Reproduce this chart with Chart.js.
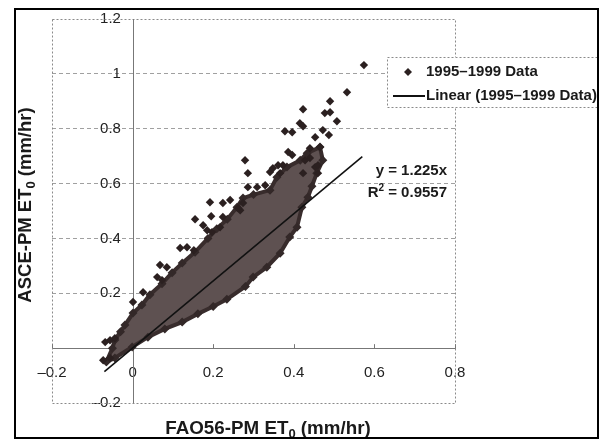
<!DOCTYPE html>
<html><head><meta charset="utf-8">
<script src="https://cdn.jsdelivr.net/npm/chart.js@4.4.1/dist/chart.umd.min.js"></script>
<style>html,body{margin:0;padding:0;background:#fff;}#wrap{width:604px;height:440px;}</style>
</head><body><div id="wrap"><canvas id="c" width="604" height="440"></canvas></div>
<script>
// ---- data ----
const xTickLabels = ['–0.2','0','0.2','0.4','0.6','0.8'];
const yTickLabels = ['–0.2','0','0.2','0.4','0.6','0.8','1','1.2'];
const seriesName = '1995–1999 Data';
const trendName = 'Linear (1995–1999 Data)';
const eqText = 'y = 1.225x';
const r2Text = '0.9557';
const xTitle = ['FAO56-PM ET', '0', ' (mm/hr)'];
const yTitle = ['ASCE-PM ET', '0', ' (mm/hr)'];

// trend line end points
const trendX = [-0.07, 0.57];
const trendY = [-0.086, 0.698];

// outline of the dense cloud of observations (closed)
const cloudX = [-0.065,-0.05,-0.044,-0.03,-0.019,0.001,0.023,0.043,0.073,0.098,0.123,0.155,0.187,0.209,0.235,0.259,0.274,0.30,0.341,0.358,0.383,0.416,0.433,0.465,0.472,0.457,0.445,0.435,0.42,0.408,0.39,0.366,0.333,0.299,0.28,0.234,0.2,0.162,0.123,0.08,0.038,-0.001,-0.044,-0.065];
const cloudY = [-0.05,0.0,0.03,0.06,0.084,0.128,0.157,0.195,0.235,0.275,0.31,0.35,0.40,0.435,0.47,0.514,0.547,0.56,0.576,0.623,0.66,0.685,0.711,0.733,0.685,0.638,0.59,0.55,0.514,0.441,0.405,0.346,0.295,0.259,0.225,0.178,0.152,0.125,0.095,0.07,0.04,0.004,-0.036,-0.05];

// scattered individual observations
const outlierX = [0.574,0.532,0.490,0.423,0.477,0.490,0.507,0.415,0.423,0.378,0.396,0.472,0.487,0.453,0.386,0.396,0.440,0.465,0.348,0.361,0.341,0.279,0.286,0.286,0.309,0.329,0.192,0.224,0.242,0.274,0.267,0.195,0.155,0.175,0.185,0.197,0.118,0.135,0.152,0.068,0.085,0.061,0.073,0.026,0.001,-0.068,-0.056,-0.044,-0.073,-0.056,
  0.366,0.373,0.440,0.453,0.460,0.423,0.428,0.460,0.262,0.224,0.217];
const outlierY = [1.032,0.933,0.900,0.871,0.857,0.860,0.827,0.820,0.809,0.791,0.787,0.795,0.777,0.769,0.715,0.704,0.729,0.733,0.656,0.667,0.642,0.685,0.638,0.587,0.587,0.594,0.532,0.529,0.540,0.529,0.503,0.481,0.470,0.448,0.430,0.423,0.365,0.368,0.357,0.303,0.295,0.259,0.248,0.204,0.168,0.022,0.029,0.036,-0.044,-0.036,
  0.638,0.667,0.693,0.660,0.638,0.638,0.685,0.667,0.510,0.478,0.441];

const zip = (xs, ys) => xs.map((x, i) => ({x: x, y: ys[i]}));
const FONT = '"Liberation Sans", Arial, Helvetica, sans-serif';
const DOT = '#2b2020';

function partsFont(i, size) { return 'bold ' + (i === 1 ? Math.round(size * 0.68) : size) + 'px ' + FONT; }
function partsWidth(ctx, parts, size) {
  let w = 0;
  parts.forEach((t, i) => { ctx.font = partsFont(i, size); w += ctx.measureText(t).width; });
  return w;
}
function drawParts(ctx, parts, x, y, size, shift) {
  parts.forEach((t, i) => {
    ctx.font = partsFont(i, size);
    ctx.fillText(t, x, y + (i === 1 ? shift : 0));
    x += ctx.measureText(t).width;
  });
}

const decor = {
  id: 'decor',
  beforeDraw(chart) {
    const ctx = chart.ctx;
    ctx.save(); ctx.fillStyle = '#fff'; ctx.fillRect(0, 0, chart.width, chart.height); ctx.restore();
  },
  beforeDatasetsDraw(chart) {
    const ctx = chart.ctx, a = chart.chartArea;
    const xs = chart.scales.x, ys = chart.scales.y;
    ctx.save();
    ctx.strokeStyle = '#8a8a8a'; ctx.lineWidth = 1; ctx.setLineDash([2, 2]);
    ctx.strokeRect(Math.round(a.left) + 0.5, Math.round(a.top) + 0.5, Math.round(a.right - a.left), Math.round(a.bottom - a.top));
    ctx.setLineDash([]);
    // vertical axis line at x = 0
    const x0 = Math.round(xs.getPixelForValue(0)) + 0.5;
    ctx.strokeStyle = '#777';
    ctx.beginPath(); ctx.moveTo(x0, a.top); ctx.lineTo(x0, a.bottom); ctx.stroke();
    // small upward tick marks on x axis
    const y0 = ys.getPixelForValue(0);
    xs.ticks.forEach(t => {
      const px = Math.round(xs.getPixelForValue(t.value)) + 0.5;
      ctx.beginPath(); ctx.moveTo(px, y0); ctx.lineTo(px, y0 - 4); ctx.stroke();
    });
    ctx.restore();
  },
  afterDraw(chart) {
    const ctx = chart.ctx;
    ctx.save();
    // legend box
    ctx.fillStyle = '#fff';
    ctx.fillRect(387, 57, 210, 50);
    ctx.strokeStyle = '#8a8a8a'; ctx.lineWidth = 1; ctx.setLineDash([2, 2]);
    ctx.strokeRect(387.5, 57.5, 210, 50);
    ctx.setLineDash([]);
    ctx.fillStyle = DOT;
    ctx.beginPath(); ctx.moveTo(408, 68); ctx.lineTo(412, 72); ctx.lineTo(408, 76); ctx.lineTo(404, 72); ctx.closePath(); ctx.fill();
    ctx.strokeStyle = '#111'; ctx.lineWidth = 2;
    ctx.beginPath(); ctx.moveTo(393, 96); ctx.lineTo(425, 96); ctx.stroke();
    ctx.fillStyle = '#1a1a1a';
    ctx.font = 'bold 15px ' + FONT; ctx.textBaseline = 'middle'; ctx.textAlign = 'left';
    ctx.fillText(seriesName, 426, 72);
    ctx.fillText(trendName, 426, 96);
    // equation
    ctx.textAlign = 'right';
    ctx.fillText(eqText, 447, 171);
    ctx.textAlign = 'left';
    const r2 = ['R', '2', ' = ' + r2Text];
    const w = partsWidth(ctx, r2, 15);
    ctx.textBaseline = 'alphabetic';
    drawParts(ctx, r2, 447 - w, 197, 15, -6);
    // axis titles
    const wx = partsWidth(ctx, xTitle, 18.8);
    drawParts(ctx, xTitle, 268 - wx / 2, 434, 18.8, 4);
    const wy = partsWidth(ctx, yTitle, 18.5);
    ctx.save();
    ctx.translate(31, 205); ctx.rotate(-Math.PI / 2);
    drawParts(ctx, yTitle, -wy / 2, 0, 18.5, 4);
    ctx.restore();
    // outer frame
    ctx.strokeStyle = '#000'; ctx.lineWidth = 2;
    ctx.strokeRect(15, 9, 583, 429);
    ctx.restore();
  }
};

const hidden = v => [-0.2, 0, 1.2].some(k => Math.abs(v - k) < 1e-6);

new Chart(document.getElementById('c'), {
  type: 'scatter',
  data: {
    datasets: [
      { label: trendName, data: zip(trendX, trendY), showLine: true, borderColor: '#111', borderWidth: 1.6, pointRadius: 0, fill: false },
      { label: seriesName, data: zip(outlierX, outlierY), pointStyle: 'rectRot', pointRadius: 4.2, backgroundColor: DOT, borderWidth: 0 },
      { label: seriesName + ' (dense)', data: zip(cloudX, cloudY), showLine: true, fill: 'shape', backgroundColor: '#5e5151', borderColor: '#382c2c', borderWidth: 4,
        pointStyle: 'rectRot', pointRadius: 4.5, pointBackgroundColor: '#332828', pointBorderWidth: 0 }
    ]
  },
  options: {
    responsive: false, animation: false, devicePixelRatio: 1,
    layout: { padding: { left: 52, top: 19, right: 149, bottom: 37 } },
    plugins: { legend: { display: false }, tooltip: { enabled: false }, title: { display: false } },
    scales: {
      x: {
        type: 'linear', min: -0.2, max: 0.8, position: { y: 0 },
        ticks: { stepSize: 0.2, padding: 16, color: '#222', font: { size: 15, family: FONT }, maxRotation: 0,
          callback: (v, i) => xTickLabels[i] },
        grid: { display: false, drawTicks: false },
        border: { display: true, color: '#777', width: 1 }
      },
      y: {
        // labels sit just left of the x = 0 axis line
        type: 'linear', min: -0.2, max: 1.2, position: { x: -0.029 },
        ticks: { stepSize: 0.2, padding: 0, color: '#222', font: { size: 15, family: FONT },
          callback: (v, i) => yTickLabels[i] },
        grid: { display: true, drawTicks: false, lineWidth: 1,
          color: c => (c.tick && hidden(c.tick.value)) ? 'rgba(0,0,0,0)' : '#a0a0a0' },
        border: { display: false, dash: [4, 3] }
      }
    }
  },
  plugins: [decor]
});
</script></body></html>
